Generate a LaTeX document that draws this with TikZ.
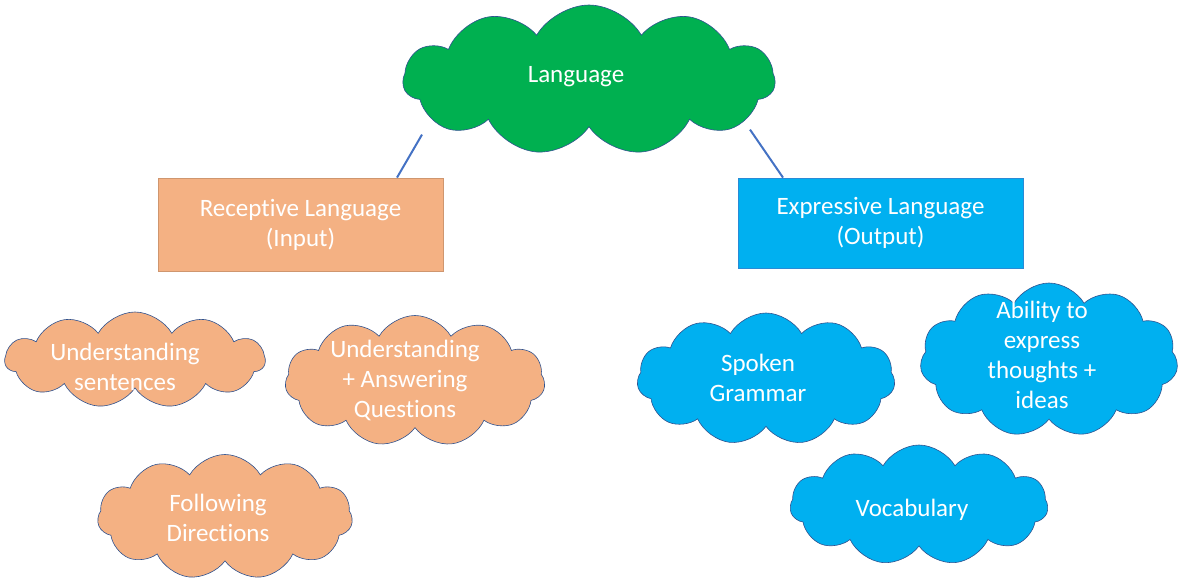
\documentclass[tikz,border=0pt]{standalone}
\usepackage{fontspec}
\setmainfont{Carlito}[Ligatures=NoCommon]
\usetikzlibrary{shapes.symbols}
\definecolor{langgreen}{HTML}{00B050}
\definecolor{recorange}{HTML}{F4B183}
\definecolor{expblue}{HTML}{00B0F0}
\definecolor{edgeblue}{HTML}{2F528F}
\definecolor{linkblue}{HTML}{4472C4}

\begin{document}
\begin{tikzpicture}[x=1pt, y=-1pt,
		every node/.style={font=\fontsize{25}{30}\selectfont, text=white, align=center},
		puff/.style={cloud, cloud puffs=11, cloud puff arc=120, draw=edgeblue, line width=0.6pt, inner sep=0pt},
		panel/.style={rectangle, line width=0.8pt, inner sep=0pt},
		link/.style={draw=linkblue, line width=2pt}]
				\useasboundingbox (0,0) rectangle (1179,587);
				\node [puff, fill=langgreen, minimum width=372, minimum height=150] (lang) at (589,80) {};
				\node (langtext) at (576,77) {Language};
				\node [panel, fill=recorange, draw=recorange!85!black, minimum width=285, minimum height=93] (rec) at (300.5,224.5) {Receptive Language\\(Input)};
				\node [panel, fill=expblue, draw=linkblue!60!expblue, minimum width=285, minimum height=90] (exp) at (880.5,223) {Expressive Language\\(Output)};
				\draw [link] ([xshift=96.5]rec.north) -- ++(25,-43);
				\draw [link] ([xshift=-97.5]exp.north) -- ++(-33,-48);
				\node [puff, fill=recorange, minimum width=260, minimum height=96] (sent) at (135,360) {};
				\node (senttext) at (125,367) {Understanding\\sentences};
				\node [puff, fill=recorange, minimum width=260, minimum height=131] (ques) at (415,381) {};
				\node (questext) at (405,380) {Understanding\\+ Answering\\Questions};
				\node [puff, fill=recorange, minimum width=255, minimum height=125] (dirs) at (225,517) {};
				\node (dirstext) at (218,518) {Following\\Directions};
				\node [puff, fill=expblue, minimum width=258, minimum height=132] (gram) at (766,379) {};
				\node (gramtext) at (758,378) {Spoken\\Grammar};
				\node [puff, fill=expblue, minimum width=258, minimum height=154] (idea) at (1049,360) {};
				\node (ideatext) at (1042,355) {Ability to\\express\\thoughts +\\ideas};
				\node [puff, fill=expblue, minimum width=258, minimum height=120] (voc) at (919,505) {};
				\node (voctext) at (912,510) {Vocabulary};
\end{tikzpicture}
\end{document}
